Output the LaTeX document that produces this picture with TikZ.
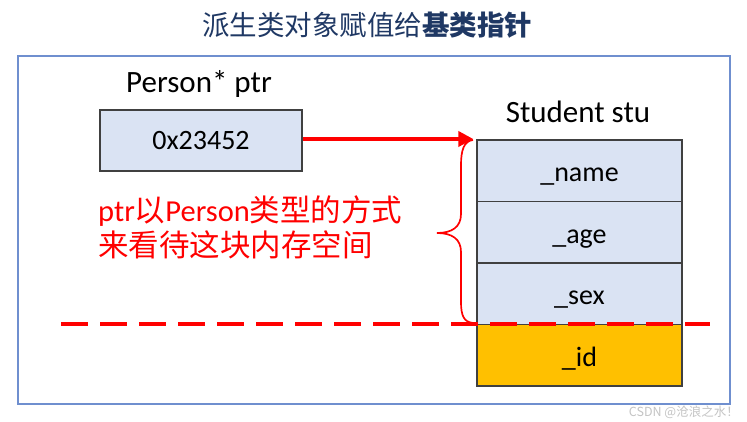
\documentclass[tikz,border=0pt]{standalone}
\usepackage{fontspec}
\setmainfont{Carlito}
\newfontfamily\cjk{Noto Sans CJK SC}
\usetikzlibrary{arrows.meta}
\definecolor{titleblue}{HTML}{1F3864}
\definecolor{framecol}{HTML}{6F8FCF}
\definecolor{cellfill}{HTML}{DAE3F3}
\definecolor{cellline}{HTML}{404040}
\definecolor{idfill}{HTML}{FFC000}
\definecolor{wmgrey}{HTML}{C4C4C4}
\tikzset{
  lbl/.style={inner sep=0pt, font=\fontsize{31}{34}\selectfont},
  cellbox/.style={draw=cellline, line width=1.3pt, fill=cellfill, inner sep=0pt,
    minimum width=205pt, minimum height=61.5pt, font=\fontsize{28}{32}\selectfont},
  celltext/.style={text height=22pt, text depth=0pt},
  redtxt/.style={inner sep=0pt, anchor=base west, text=red, font=\fontsize{30.5}{34}\selectfont},
  redarrow/.style={draw=red, line width=4.5pt, -{Triangle[length=15pt,width=15pt]}},
  bracepen/.style={draw=red, line width=1.7pt},
  dashpen/.style={draw=red, line width=3.2pt, dash pattern=on 27pt off 12pt}
}
\begin{document}
\begin{tikzpicture}[x=1pt,y=-1pt]
\useasboundingbox (0,0) rectangle (747,422);
\fill[white] (0,0) rectangle (747,422);
% title
\node[inner sep=0pt, text=titleblue, font=\fontsize{27.5}{30}\selectfont\cjk] (title) at (367,25) {派生类对象赋值给\textbf{基类指针}};
% frame
\draw[framecol, line width=1.5pt] (18,56) rectangle (730,404);
% pointer
\node[lbl, anchor=base] (plabel) at (199,93) {Person* ptr};
\node[cellbox, minimum width=202pt, minimum height=61pt] (ptr) at (201,140.5) {0x23452};
% student
\node[lbl, anchor=base] (slabel) at (578,123) {Student stu};
\node[cellbox, celltext] (name) at (579.5,170.75) {\_name};
\node[cellbox, celltext] (age) at (579.5,232.25) {\_age};
\node[cellbox, celltext] (sex) at (579.5,293.75) {\_sex};
\node[cellbox, celltext, fill=idfill] (id) at (579.5,355.25) {\_id};
% arrow
\draw[redarrow] (ptr.east |- 0,139) -- ([xshift=-3pt]name.west |- 0,139);
% brace
\coordinate (bt) at (473,140);
\coordinate (bb) at (473,323);
\coordinate (tip) at (437,233);
\draw[bracepen] (bt) .. controls (464,141) and (461,150) .. (461,165)
  -- (461,214) .. controls (461,227) and (452,233) .. (tip)
  .. controls (452,233) and (461,239) .. (461,252)
  -- (461,302) .. controls (461,316) and (464,322) .. (bb);
% text
\node[redtxt] (t1) at (98,221.5) {ptr{\cjk 以}Person{\cjk 类型的方式}};
\node[redtxt] (t2) at (98,256.5) {\cjk 来看待这块内存空间};
% dashed line
\coordinate (dl) at (61,324);
\coordinate (dr) at (710,324);
\draw[dashpen] (dl) -- (dr);
% watermark
\node[inner sep=0pt, anchor=east, text=wmgrey, font=\fontsize{12.5}{14}\selectfont\cjk] (wm) at (739,412) {CSDN @沧浪之水！};
\end{tikzpicture}
\end{document}
